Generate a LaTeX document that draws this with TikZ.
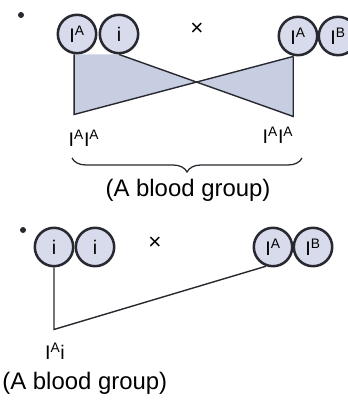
\documentclass[tikz,border=0pt]{standalone}
\usepackage{fontspec}
\setmainfont{Liberation Sans}
\usepackage{tikz}
\usetikzlibrary{calc,backgrounds,decorations.pathreplacing}
\definecolor{geneink}{RGB}{40,40,48}
\definecolor{genefill}{RGB}{216,219,235}
\definecolor{crossfill}{RGB}{200,206,226}
\newcommand{\alA}{I\textsuperscript{A}}
\newcommand{\alB}{I\textsuperscript{B}}

\begin{document}
\begin{tikzpicture}[
  gene/.style={circle,draw=geneink,fill=genefill,line width=1.8pt,
               minimum size=0.96cm,inner sep=0pt,
               font=\fontsize{14}{16}\selectfont},
  link/.style={draw=geneink,line width=1pt},
  lbl/.style={font=\fontsize{14}{16}\selectfont},
  grp/.style={font=\fontsize{17}{20}\selectfont}]
  \useasboundingbox (0,0) rectangle (8.7,-10);
  % 第一组：I^A i x I^A I^B
  \fill[geneink] (0.525,-0.375) circle (0.075);
  \node[gene] (pA) at (1.925,-0.85) {\alA};
  \node[gene] (pi) at (2.975,-0.85) {i};
  \node[lbl,font=\fontsize{16}{18}\selectfont] (x1) at (4.925,-0.72) {×};
  \node[gene] (qA) at (7.45,-0.9) {\alA};
  \node[gene] (qB) at (8.45,-0.9) {\alB};
  % 三角形（交叉）
  \coordinate (a1) at ($(pA.south)+(-0.07,0)$);
  \coordinate (a2) at ($(a1)+(0,-1.5)$);
  \coordinate (b1) at ($(qA.south)+(-0.12,0)$);
  \coordinate (b2) at ($(b1)+(0,-1.5)$);
  \coordinate (X) at (intersection of pi.south--b2 and a2--b1);
  \begin{scope}[on background layer]
    \fill[crossfill] (a1) -- (pi.south) -- (X) -- (a2) -- cycle;
    \fill[crossfill] (X) -- (b1) -- (b2) -- cycle;
  \end{scope}
  \draw[link] (a1) -- (a2) -- (b1);
  \draw[link] (pi.south) -- (b2) -- (b1);
  % 子代
  \node[lbl] (kA) at (2.1,-3.45) {\alA\alA};
  \node[lbl] (kB) at (6.95,-3.375) {\alA\alA};
  \coordinate (br1) at (1.8,-3.95);
  \coordinate (br2) at (7.55,-3.95);
  \draw[geneink,line width=0.9pt,decorate,decoration={brace,mirror,amplitude=0.35cm}]
    (br1) -- (br2);
  \node[grp] (gA) at (4.7,-4.75) {(A blood group)};
  % 第二组：i i x I^A I^B
  \fill[geneink] (0.575,-5.75) circle (0.075);
  \node[gene] (ci) at (1.35,-6.175) {i};
  \node[gene] (cj) at (2.375,-6.175) {i};
  \node[lbl,font=\fontsize{16}{18}\selectfont] (x2) at (3.875,-6.07) {×};
  \node[gene] (cA) at (6.825,-6.175) {\alA};
  \node[gene] (cB) at (7.825,-6.175) {\alB};
  \coordinate (c1) at ($(ci.south)+(0,-1.55)$);
  \draw[link] (ci.south) -- (c1) -- (cA.250);
  \node[lbl] (kC) at (1.375,-8.775) {\alA i};
  \node[grp] (gB) at (2.12,-9.575) {(A blood group)};
\end{tikzpicture}
\end{document}
